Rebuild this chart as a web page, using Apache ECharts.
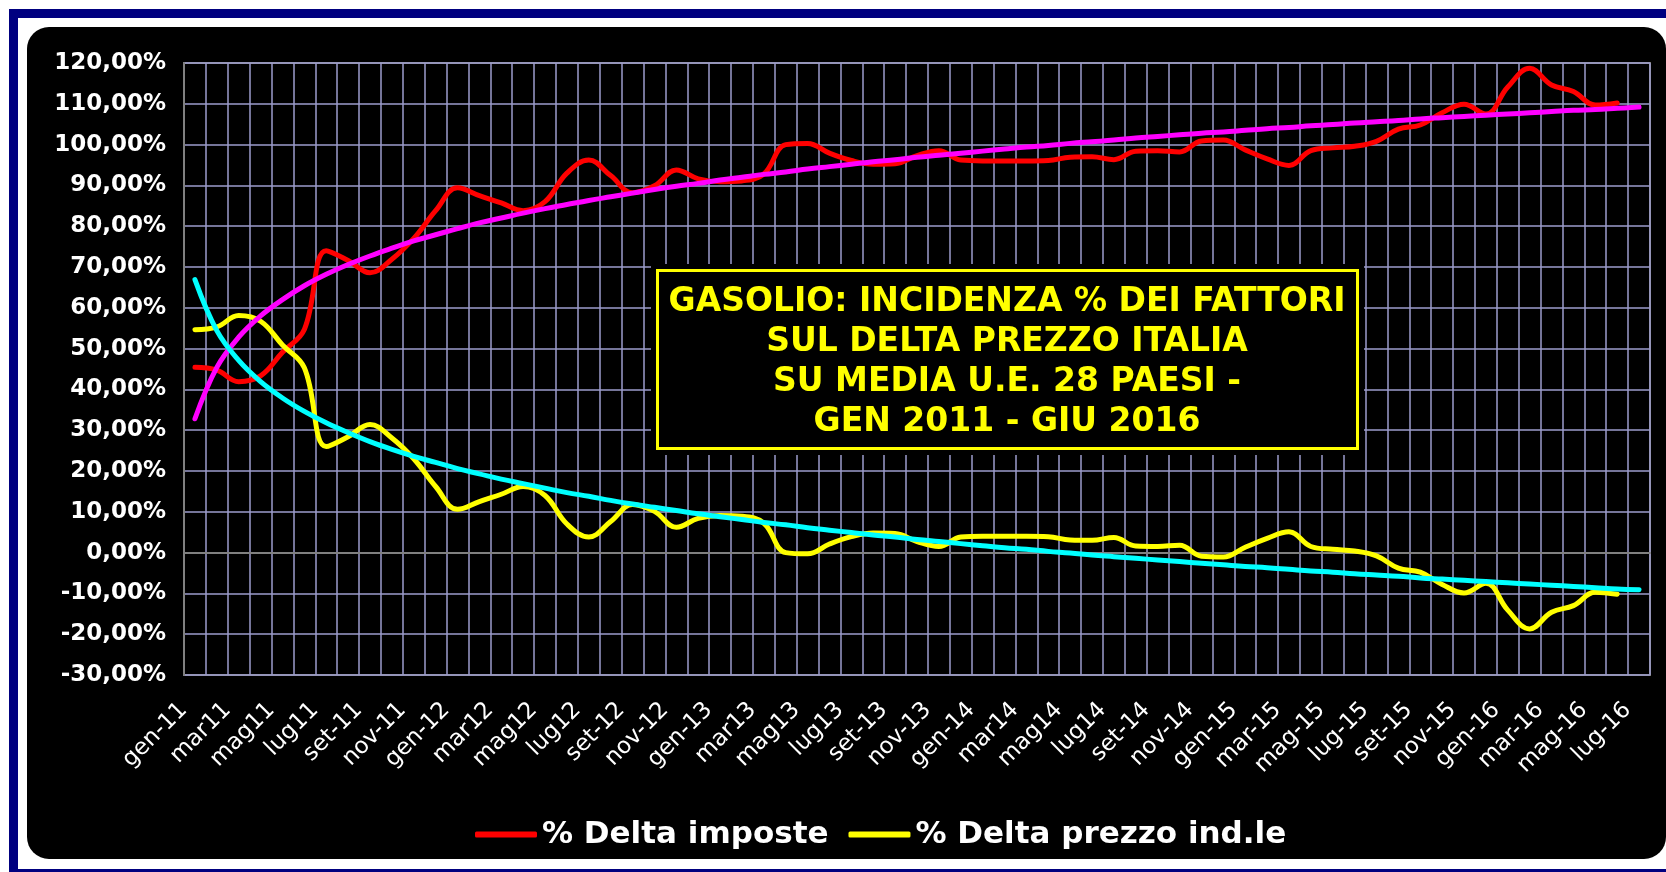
<!DOCTYPE html>
<html>
<head>
<meta charset="utf-8">
<title>Gasolio - incidenza % dei fattori</title>
<script src="https://cdn.jsdelivr.net/npm/echarts@6/dist/echarts.min.js"></script>
<style>
  html, body { margin: 0; padding: 0; background: #ffffff; }
  #chart { width: 1666px; height: 872px; }
</style>
</head>
<body>
<div id="chart"></div>
<script>
// mesi gen-11 .. lug-16 (etichette come nel grafico originale)
const mesi = [
  "gen-11", "feb-11", "mar11", "apr11", "mag11", "giu11", "lug11", "ago11", "set-11", "ott-11", "nov-11", "dic-11",
  "gen-12", "feb-12", "mar12", "apr12", "mag12", "giu12", "lug12", "ago12", "set-12", "ott-12", "nov-12", "dic-12",
  "gen-13", "feb-13", "mar13", "apr13", "mag13", "giu13", "lug13", "ago13", "set-13", "ott-13", "nov-13", "dic-13",
  "gen-14", "feb-14", "mar14", "apr14", "mag14", "giu14", "lug14", "ago14", "set-14", "ott-14", "nov-14", "dic-14",
  "gen-15", "feb-15", "mar-15", "apr-15", "mag-15", "giu-15", "lug-15", "ago-15", "set-15", "ott-15", "nov-15", "dic-15",
  "gen-16", "feb-16", "mar-16", "apr-16", "mag-16", "giu-16", "lug-16"
];

// % Delta imposte (fino a giu-16)
const deltaImposte = [
  45.4, 44.7, 41.9, 43.3, 49.1, 54.7, 74.0, 71.6, 68.6, 71.9, 77.0, 83.8,
  89.4, 87.5, 85.7, 83.8, 86.0, 93.0, 96.2, 92.4, 88.2, 89.9, 93.8, 91.6,
  90.9, 91.1, 92.8, 100.0, 100.3, 97.9, 96.1, 95.2, 95.3, 97.3, 98.5, 96.2,
  96.0, 96.0, 96.0, 96.1, 96.9, 97.0, 96.3, 98.4, 98.5, 98.2, 100.9, 101.1,
  98.7, 96.5, 94.9, 98.5, 99.2, 99.6, 100.8, 103.8, 104.8, 107.8, 109.9, 107.5,
  114.1, 118.7, 114.6, 113.0, 109.7, 110.2
];

// % Delta prezzo industriale (fino a giu-16)
const deltaPrezzo = [
  54.6, 55.3, 58.1, 56.7, 50.9, 45.3, 26.0, 28.4, 31.4, 28.1, 23.0, 16.2,
  10.6, 12.5, 14.3, 16.2, 14.0, 7.0, 3.8, 7.6, 11.8, 10.1, 6.2, 8.4,
  9.1, 8.9, 7.2, 0.0, -0.3, 2.1, 3.9, 4.8, 4.7, 2.7, 1.5, 3.8,
  4.0, 4.0, 4.0, 3.9, 3.1, 3.0, 3.7, 1.6, 1.5, 1.8, -0.9, -1.1,
  1.3, 3.5, 5.1, 1.5, 0.8, 0.4, -0.8, -3.8, -4.8, -7.8, -9.9, -7.5,
  -14.1, -18.7, -14.6, -13.0, -9.7, -10.2
];

// linee di tendenza (magenta = imposte, ciano = prezzo ind.le)
const tendImposte = [
  32.8, 45.4, 52.8, 58.0, 62.0, 65.4, 68.2, 70.6, 72.7, 74.6, 76.4, 77.9,
  79.4, 80.8, 82.0, 83.2, 84.3, 85.3, 86.3, 87.2, 88.1, 89.0, 89.8, 90.5,
  91.3, 92.0, 92.7, 93.3, 94.0, 94.6, 95.2, 95.8, 96.3, 96.9, 97.4, 97.9,
  98.4, 98.9, 99.4, 99.8, 100.3, 100.7, 101.1, 101.6, 102.0, 102.4, 102.8, 103.1,
  103.5, 103.9, 104.2, 104.6, 104.9, 105.3, 105.6, 105.9, 106.3, 106.6, 106.9, 107.2,
  107.5, 107.8, 108.1, 108.4, 108.6, 108.9, 109.2
];
const tendPrezzo = [
  66.9, 54.4, 47.1, 41.9, 37.9, 34.6, 31.8, 29.4, 27.2, 25.3, 23.6, 22.1,
  20.6, 19.3, 18.0, 16.9, 15.8, 14.7, 13.8, 12.8, 11.9, 11.1, 10.3, 9.5,
  8.8, 8.1, 7.4, 6.8, 6.1, 5.5, 4.9, 4.3, 3.8, 3.2, 2.7, 2.2,
  1.7, 1.2, 0.8, 0.3, -0.1, -0.6, -1.0, -1.4, -1.8, -2.2, -2.6, -3.0,
  -3.4, -3.7, -4.1, -4.5, -4.8, -5.2, -5.5, -5.8, -6.2, -6.5, -6.8, -7.1,
  -7.4, -7.7, -8.0, -8.3, -8.6, -8.9, -9.1
];

const titolo = [
  "GASOLIO: INCIDENZA % DEI FATTORI",
  "SUL DELTA PREZZO ITALIA",
  "SU MEDIA U.E. 28 PAESI -",
  "GEN 2011 - GIU 2016"
];

const FONT = "Verdana, 'DejaVu Sans', sans-serif";
const GRIGLIA = "#9d9dcc";

let myChart = echarts.init(document.getElementById("chart"));

function linea(nome, dati, colore) {
  return {
    name: nome,
    type: "line",
    data: dati,
    smooth: 0.4,
    showSymbol: false,
    symbol: "none",
    lineStyle: { color: colore, width: 5, cap: "round", join: "round" },
    itemStyle: { color: colore },
    emphasis: { disabled: true }
  };
}

let option = {
  animation: false,
  graphic: [
    // cornice blu
    {
      type: "rect", z: -20, silent: true,
      shape: { x: 13.5, y: 13.5, width: 1700, height: 860 },
      style: { fill: "#ffffff", stroke: "#000080", lineWidth: 9 }
    },
    // fondo nero arrotondato
    {
      type: "rect", z: -10, silent: true,
      shape: { x: 27, y: 27, width: 1639, height: 832, r: 22 },
      style: { fill: "#000000" }
    },
    // riquadro del titolo
    {
      type: "group", z: 100,
      children: [
        {
          type: "rect", z: 100,
          shape: { x: 651, y: 264, width: 713, height: 191 },
          style: { fill: "#000000" }
        },
        {
          type: "rect", z: 101,
          shape: { x: 657.5, y: 270.5, width: 700, height: 178 },
          style: { fill: "#000000", stroke: "#ffff00", lineWidth: 3 }
        },
        {
          type: "text", z: 102,
          style: {
            x: 1007, y: 362,
            text: titolo.join("\n"),
            fill: "#ffff00",
            font: "bold 33px " + FONT,
            lineHeight: 40,
            align: "center",
            verticalAlign: "middle"
          }
        }
      ]
    }
  ],
  legend: {
    data: ["% Delta imposte", "% Delta prezzo ind.le"],
    left: 470,
    top: 814,
    icon: "roundRect",
    itemWidth: 62,
    itemHeight: 6,
    itemGap: 20,
    textStyle: { color: "#ffffff", fontSize: 31, fontWeight: "bold", fontFamily: FONT }
  },
  grid: {
    left: 184,
    right: 16,
    top: 63,
    bottom: 197,
    show: true,
    borderColor: "#808080",
    borderWidth: 2,
    backgroundColor: "transparent"
  },
  xAxis: {
    type: "category",
    data: mesi,
    boundaryGap: true,
    axisLine: { show: true, lineStyle: { color: "#808080", width: 2 } },
    axisTick: { show: false },
    axisLabel: {
      interval: 1,
      rotate: 45,
      margin: 20,
      padding: [0, 16, 0, 0],
      color: "#ffffff",
      fontSize: 23,
      fontFamily: FONT
    },
    splitLine: { show: true, interval: 0, lineStyle: { color: GRIGLIA, width: 1.5 } }
  },
  yAxis: {
    type: "value",
    min: -30,
    max: 120,
    interval: 10,
    axisLine: { show: true, lineStyle: { color: "#808080", width: 2 } },
    axisTick: { show: false },
    axisLabel: {
      margin: 18,
      color: "#ffffff",
      fontSize: 23,
      fontWeight: "bold",
      fontFamily: FONT,
      formatter: v => v.toFixed(2).replace(".", ",") + "%"
    },
    splitLine: { show: true, lineStyle: { color: GRIGLIA, width: 1.5 } }
  },
  series: [
    linea("% Delta imposte", deltaImposte, "#ff0000"),
    linea("% Delta prezzo ind.le", deltaPrezzo, "#ffff00"),
    linea("Tendenza imposte", tendImposte, "#ff00ff"),
    linea("Tendenza prezzo ind.le", tendPrezzo, "#00ffff")
  ]
};
myChart.setOption(option);
</script>
</body>
</html>
